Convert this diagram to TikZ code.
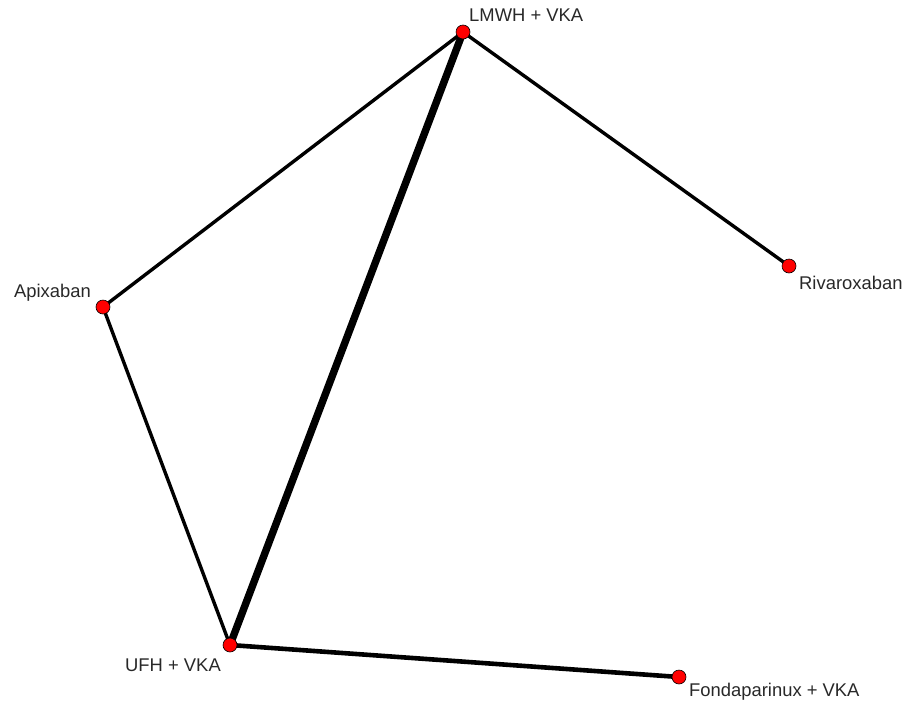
\documentclass[tikz,border=0pt]{standalone}
\usepackage{fontspec}
\setmainfont{Liberation Sans}
\definecolor{ntRed}{RGB}{255,0,0}
\definecolor{ntGrey}{RGB}{40,40,40}
\usetikzlibrary{positioning}

\begin{document}
\begin{tikzpicture}[x=1pt,y=-1pt,
  t/.style={circle,fill=ntRed,draw=black,line width=0.6pt,inner sep=0pt,minimum size=14pt},
  l/.style={font=\fontsize{18.4}{21}\selectfont,text=ntGrey,inner sep=0pt},
  e/.style={black,line width=3.4pt}]
  \useasboundingbox (0,0) rectangle (904,702);
  % network edges first, treatment dots on top
  \coordinate (lmwh) at (463,32);
  \coordinate (riva) at (789,266);
  \coordinate (apix) at (103,307);
  \coordinate (ufh) at (230,645);
  \coordinate (fond) at (679,677);
  \draw[e] (lmwh) -- (apix);
  \draw[e] (lmwh) -- (riva);
  \draw[e] (apix) -- (ufh);
  \draw[e,line width=7.4pt] (lmwh) -- (ufh);
  \draw[e,line width=4.6pt] (ufh) -- (fond);
  \node[t] (n1) at (lmwh) {};
  \node[t] (n2) at (riva) {};
  \node[t] (n3) at (apix) {};
  \node[t] (n4) at (ufh) {};
  \node[t] (n5) at (fond) {};
  \node[l,anchor=west] (t1) at (469,15) {LMWH + VKA};
  \node[l,anchor=west] (t2) at (799,283) {Rivaroxaban};
  \node[l,anchor=east] (t3) at (91,293) {Apixaban};
  \node[l,anchor=east] (t4) at (221,665) {UFH + VKA};
  \node[l,anchor=west] (t5) at (689,692) {Fondaparinux + VKA};
\end{tikzpicture}
\end{document}
